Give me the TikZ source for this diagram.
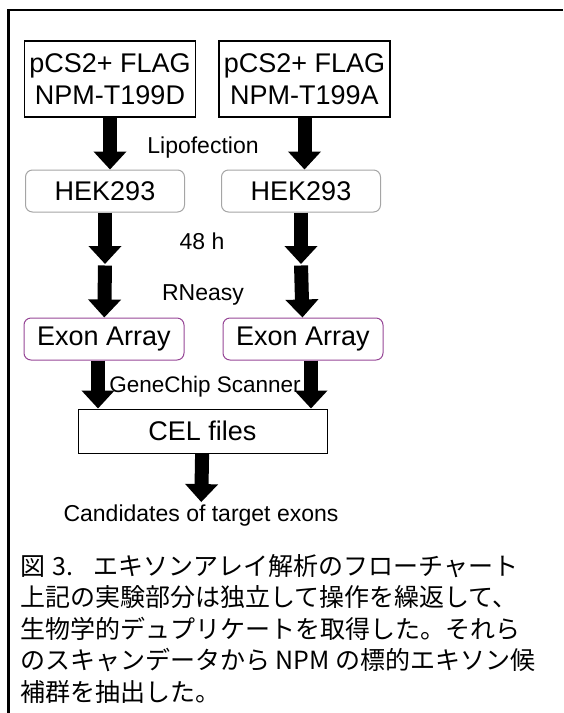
\documentclass[tikz,border=0pt]{standalone}
\usepackage{fontspec}
\setmainfont{Liberation Sans}
\newfontfamily\jpfont{Noto Sans CJK JP}
\usepackage{xcolor}
\usepackage{tikz}
\usetikzlibrary{positioning,arrows.meta,calc}
\tikzset{
    plasmid box/.style={rectangle, draw, line width=1.2pt, minimum width=171pt, minimum height=76pt, inner sep=0pt, align=center, font=\fontsize{27}{32}\selectfont},
    cell box/.style={rectangle, rounded corners=7pt, draw=cellgray, line width=1pt, minimum width=159pt, minimum height=42pt, inner sep=0pt, font=\fontsize{27}{32}\selectfont},
    array box/.style={cell box, draw=arraypurple, minimum width=160pt},
    file box/.style={rectangle, draw, line width=1pt, minimum width=249pt, minimum height=44pt, inner sep=0pt, font=\fontsize{27}{32}\selectfont},
    step label/.style={anchor=base, inner sep=0pt, font=\fontsize{23}{27}\selectfont},
    result label/.style={inner sep=3pt, font=\fontsize{23}{27}\selectfont},
    caption text/.style={anchor=north west, inner sep=0pt, align=left, font=\jpfont\fontsize{25}{31.5}\selectfont},
    flow arrow/.style={line width=14pt, -{Triangle[width=32pt,length=18pt]}},
    frame line/.style={line width=2.5pt}
}
\definecolor{cellgray}{RGB}{165,165,165}
\definecolor{arraypurple}{RGB}{150,70,150}

\begin{document}
\begin{tikzpicture}[x=1pt, y=-1pt]
    \useasboundingbox (0,0) rectangle (563,713);

    % Frame - top and left edges only
    \draw[frame line] (8.5,713) -- (8.5,10) -- (563,10);

    % Plasmid boxes - top row
    \node[plasmid box] (plasD) at (110,79) {pCS2+ FLAG\\NPM-T199D};
    \node[plasmid box] (plasA) at (304.5,79) {pCS2+ FLAG\\NPM-T199A};

    % Cells
    \node[cell box] (hekD) at (105,191) {HEK293};
    \node[cell box] (hekA) at (301,191) {HEK293};

    % Arrays
    \node[array box] (exonD) at (104,339) {Exon Array};
    \node[array box] (exonA) at (303,339) {Exon Array};

    % Scan result
    \node[file box] (cel) at (202.5,431) {CEL files};
    \node[result label] (cand) at (201,516) {Candidates of target exons};

    % Joints between the stacked arrows
    \coordinate (midD) at (105,264);
    \coordinate (midA) at (301,264);

    % Flow arrows
    \draw[flow arrow] (plasD) -- (plasD |- hekD.north);
    \draw[flow arrow] (plasA) -- (plasA |- hekA.north);
    \draw[flow arrow] (hekD) -- (midD);
    \draw[flow arrow] (hekA) -- (midA);
    \draw[flow arrow, shorten <=1.5pt] (midD) -- (exonD);
    \draw[flow arrow, shorten <=1.5pt] (midA) -- (exonA);
    \draw[flow arrow] ([xshift=-6pt]exonD.south) -- ([xshift=-6pt]exonD.south |- cel.north);
    \draw[flow arrow] ([xshift=8pt]exonA.south) -- ([xshift=8pt]exonA.south |- cel.north);
    \draw[flow arrow] (cel) -- (cand);

    % Step labels
    \node[step label] (lipo) at (203,153) {Lipofection};
    \node[step label] (incub) at (202,249) {48 h};
    \node[step label] (rneasy) at (203,300) {RNeasy};
    \node[step label, font=\fontsize{22.5}{27}\selectfont] (scan) at (205,392) {GeneChip Scanner};

    % Caption
    \node[caption text] (caption) at (20,554) {図\hspace{0.3em}3.\hspace{0.8em}エキソンアレイ解析のフローチャート\\
        上記の実験部分は独立して操作を繰返して、\\
        生物学的デュプリケートを取得した。それら\\
        のスキャンデータから NPM の標的エキソン候\\
        補群を抽出した。};
\end{tikzpicture}
\end{document}
